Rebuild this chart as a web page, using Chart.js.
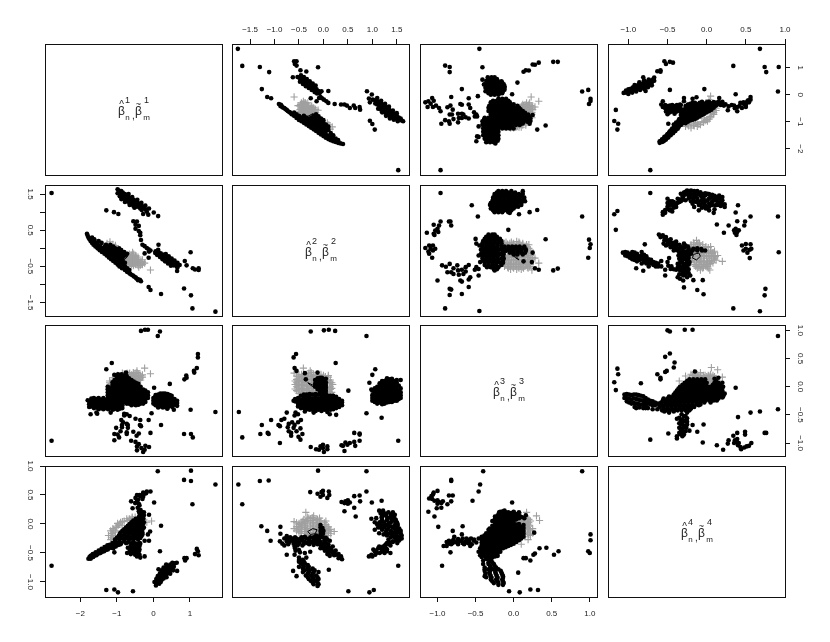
<!DOCTYPE html>
<html>
<head>
<meta charset="utf-8">
<title>pairs</title>
<script src="https://cdn.jsdelivr.net/npm/chart.js@4/dist/chart.umd.min.js"></script>
<style>
  html, body { margin: 0; padding: 0; background: #fff; }
  #wrap { position: relative; width: 830px; height: 642px; overflow: hidden; }
  #wrap canvas { position: absolute; }
</style>
</head>
<body>
<div id="wrap"></div>
<script>
// axis limits and ticks of the four variables
const limits = [[-2.97, 1.88], [-1.87, 1.75], [-1.23, 1.095], [-1.26, 1.0]];
const ticksV1 = [-2, -1, 0, 1];
const ticksV2 = [-1.5, -1, -0.5, 0, 0.5, 1, 1.5];
const ticksV3 = [-1, -0.5, 0, 0.5, 1];
const ticksV4 = [-1, -0.5, 0, 0.5, 1];
const leftLabelsV2 = [-1.5, -0.5, 0.5, 1.5];
const diagLabels = ["1", "2", "3", "4"];

// small polygon drawn over the clouds
const polyV1 = [-0.70, -0.80, -0.97, -0.97, -0.80, -0.70];
const polyV2 = [-0.22, -0.13, -0.17, -0.27, -0.32, -0.22];
const polyV3 = [0.03, -0.02, -0.02, 0.03, 0.07, 0.03];
const polyV4 = [-0.08, -0.10, -0.17, -0.18, -0.13, -0.08];

// [v2, v1]
const black12 = [[-1.75,1.70],[-1.66,1.07],[-1.30,1.03],[-1.11,.84],[-1.26,.21],[-1.15,-.08],[-1.07,-.13],[1.53,-2.79],[-.11,1.02],
[-.6,1.24],[-.55,1.24],[-.585,1.14],[-.55,1.08],[-.47,.91],[-.35,.86],[-.625,.65],[-.53,.66],
[-.50,.64],[-.47,.66],[-.47,.56],[-.44,.62],[-.44,.52],[-.41,.58],[-.41,.47],[-.38,.54],[-.38,.44],[-.35,.50],[-.35,.40],[-.32,.47],[-.32,.37],[-.29,.42],[-.29,.33],[-.26,.38],[-.26,.28],[-.23,.34],[-.23,.25],[-.20,.30],[-.20,.21],[-.17,.26],[-.17,.17],[-.14,.20],[-.14,.12],[-.10,.14],[-.08,.06],[-.13,.05],
[-.04,.13],[.1,.14],[-.06,-.08],[.01,-.18],[-.14,-.24],[-.09,-.12],[-.03,-.13],[.06,-.24],[.1,-.3],[-.26,-.13],[.23,-.34],[.36,-.36],[.43,-.36],[.48,-.4],[.54,-.49],[.62,-.4],[.65,-.49],[.74,-.45],[.75,-.55],
[-.91,-.34],[-.87,-.37],[-.85,-.43],[-.8,-.49],[-.75,-.56],[-.7,-.64],[-.65,-.72],[-.6,-.78],[-.55,-.86],[-.5,-.93],[-.45,-.98],[-.4,-1.04],[-.35,-1.1],[-.3,-1.16],[-.25,-1.22],[-.2,-1.28],[-.15,-1.34],[-.1,-1.41],[-.05,-1.47],[0,-1.53],[.05,-1.59],[.1,-1.64],[.15,-1.68],[.2,-1.72],[.25,-1.75],[.3,-1.78],[.35,-1.8],[.4,-1.82],
[-.6,-.66],[-.55,-.72],[-.5,-.78],[-.45,-.84],[-.4,-.9],[-.35,-.96],[-.3,-1.02],[-.25,-1.08],[-.2,-1.14],[-.15,-1.21],[-.1,-1.28],[-.05,-1.34],[0,-1.4],[.05,-1.46],[.1,-1.52],[.15,-1.57],[.2,-1.62],
[-.4,-.78],[-.35,-.84],[-.3,-.9],[-.25,-.96],[-.2,-1.02],[-.15,-1.09],[-.1,-1.16],[-.05,-1.22],[0,-1.28],[.05,-1.34],
[-.25,-.84],[-.2,-.9],[-.15,-.97],[-.1,-1.04],[-.05,-1.1],[0,-1.16],[.05,-1.22],[-.2,-.78],[-.15,-.85],[-.1,-.92],[-.05,-.98],[0,-1.04],
[.89,.13],[.99,.01],[.93,-.14],[1.01,-.18],[.95,-.28],[1.06,-.2],[1.06,-.32],[1.1,-.24],[1.1,-.36],[1.14,-.28],[1.14,-.4],[1.14,-.5],[1.18,-.32],[1.18,-.44],[1.18,-.55],[1.22,-.38],[1.22,-.5],[1.22,-.62],[1.26,-.43],[1.26,-.55],[1.26,-.66],[1.3,-.48],[1.3,-.6],[1.3,-.72],[1.34,-.54],[1.34,-.66],[1.34,-.77],[1.38,-.6],[1.38,-.72],[1.38,-.82],[1.42,-.68],[1.42,-.8],[1.46,-.72],[1.46,-.84],[1.5,-.78],[1.5,-.88],[1.54,-.84],[1.54,-.92],[1.58,-.88],[1.6,-.95],[1.63,-.98],
[.95,-.96],[1,-1.08],[1.05,-1.29],
[-.88,-.42],[-.83,-.47],[-.78,-.53],[-.73,-.6],[-.68,-.66],[-.63,-.72],[-.57,-.76],[-.15,-.72],[-.1,-.8],[-.05,-.88],[0,-.94],[.05,-1.1],[.1,-1.18],[.1,-1.3],[.15,-1.42],[.2,-1.5],[.25,-1.62],[.3,-1.68],
[-.48,.48],[-.42,.4],[-.36,.32],[-.3,.25],[-.24,.18],[-.18,.1],[-.46,.72],[-.4,.66],[-.34,.58],[-.28,.5],[-.22,.42],[-.16,.34],
[1.1,-.12],[1.18,-.22],[1.26,-.33],[1.34,-.44],[1.42,-.58],[1.5,-.68],[1.12,-.52],[1.2,-.65],[1.28,-.78],[1.36,-.88],[1.44,-.92],[1.52,-.98]];
const gray12 = [[-.6,-.08],[-.41,-.24],[-.52,-.4],[-.47,-.36],[-.37,-.3],[-.3,-.43],[-.23,-.49],[-.11,-.57],[-.48,-.55],[-.43,-.49],[-.37,-.45],[-.33,-.55],[-.4,-.61],[-.33,-.73],[-.43,-.73],[-.26,-.67],[-.18,-.61],[-.5,-.61],[-.39,-.36],[-.3,-.55],[-.43,-.36],[-.44,-.6],[-.36,-.66],[-.28,-.6],[-.4,-.5],[-.35,-.4],[.11,-1.11],[.18,-1.19],[.14,-1.27],[.08,-1.04],
[-.45,-.3],[-.38,-.3],[-.32,-.3],[-.48,-.42],[-.42,-.42],[-.36,-.42],[-.3,-.42],[-.24,-.42],[-.46,-.54],[-.4,-.54],[-.34,-.54],[-.28,-.54],[-.22,-.54],[-.16,-.54],[-.46,-.66],[-.4,-.66],[-.34,-.66],[-.28,-.66],[-.22,-.66],[-.16,-.66],[-.42,-.78],[-.36,-.78],[-.3,-.78],[-.24,-.78],[-.18,-.78],[-.3,-.9],[-.24,-.9],
[-.42,-.34],[-.36,-.34],[-.45,-.48],[-.38,-.48],[-.32,-.48],[-.26,-.48],[-.2,-.48],[-.43,-.6],[-.37,-.6],[-.31,-.6],[-.25,-.6],[-.2,-.6],[-.43,-.72],[-.37,-.72],[-.31,-.72],[-.25,-.72],[-.19,-.72],[-.35,-.84],[-.28,-.84],[-.22,-.84]];

// [v3, v1]
const black13 = [[-.45,1.70],[-.90,1.08],[-.84,1.03],[-.84,.84],[-.41,1.02],[-.68,.21],[-.82,-.08],[-.59,-.13],[-.47,-.05],[-.96,-2.79],[.05,.45],[-.02,.02],[.90,.12],[.98,.18],[1.01,-.15],[1.01,-.23],[.99,-.34],[.52,1.22],[.58,1.22],[.33,1.19],[.25,1.12],[.28,1.11],[.16,.91],[.20,.90],[.13,.85],[.31,-1.29],[.42,-1.14],[.25,-.75],[.21,-1.07],
[-.34,.65],[-.29,.65],[-.25,.65],[-.36,.52],[-.31,.52],[-.26,.52],[-.21,.52],[-.16,.5],[-.38,.39],[-.33,.39],[-.28,.39],[-.23,.39],[-.18,.39],[-.13,.39],[-.37,.26],[-.32,.26],[-.27,.26],[-.22,.26],[-.17,.26],[-.12,.26],[-.34,.13],[-.29,.13],[-.24,.13],[-.19,.13],[-.14,.13],[-.3,0],[-.25,0],[-.2,0],[-.41,.56],[-.39,.38],[-.37,.13],
[-1.16,-.28],[-1.12,-.24],[-1.07,-.12],[-1.05,-.22],[-1.09,-.33],[-1.13,-.45],[-1.06,-.45],[-1.02,-.40],[-.98,-.49],[-.96,-.61],
[-.95,-1.07],[-.90,-.94],[-.85,-.98],[-.84,-1.07],[-.87,-.46],[-.83,-.40],[-.80,-.55],[-.84,-.73],[-.81,-.73],[-.79,-.90],[-.73,-1.02],[-.72,-.86],[-.73,-.70],[-.68,-.70],[-.70,-.34],[-.68,-.37],[-.66,-.73],[-.63,-.83],[-.59,-.88],[-.68,-.86],[-.59,-.36],[-.57,-.49],[-.52,-.65],[-.49,-.73],[-.48,-.80],[-.51,-.80],[-.46,-1.17],[-.49,-1.72],[-.48,-1.54],[-.46,-1.56],
[-.2,-.15],[-.15,-.15],[-.1,-.15],[-.3,-.28],[-.25,-.28],[-.2,-.28],[-.15,-.28],[-.1,-.28],[-.05,-.28],[-.32,-.41],[-.27,-.41],[-.22,-.41],[-.17,-.41],[-.12,-.41],[-.07,-.41],[-.02,-.41],[.05,-.41],[-.31,-.54],[-.26,-.54],[-.21,-.54],[-.16,-.54],[-.11,-.54],[-.06,-.54],[-.01,-.54],[.04,-.54],[.09,-.54],[-.3,-.67],[-.25,-.67],[-.2,-.67],[-.15,-.67],[-.1,-.67],[-.05,-.67],[0,-.67],[.05,-.67],[.1,-.67],[.15,-.67],
[-.28,-.8],[-.23,-.8],[-.18,-.8],[-.13,-.8],[-.08,-.8],[-.03,-.8],[.02,-.8],[.07,-.8],[.12,-.8],[.17,-.8],[.2,-.8],[-.25,-.93],[-.2,-.93],[-.15,-.93],[-.1,-.93],[-.05,-.93],[0,-.93],[.05,-.93],[.1,-.93],[.15,-.93],[.2,-.93],[.22,-.97],[-.2,-1.06],[-.15,-1.06],[-.1,-1.06],[-.05,-1.06],[0,-1.06],[.05,-1.06],[.1,-1.06],[.12,-1.06],[-.2,-1.19],[-.15,-1.19],[-.1,-1.19],[-.05,-1.19],[-.02,-1.19],
[-.38,-.85],[-.33,-.85],[-.28,-.85],[-.23,-.85],[-.41,-.98],[-.36,-.98],[-.31,-.98],[-.26,-.98],[-.2,-.98],[-.41,-1.11],[-.36,-1.11],[-.31,-1.11],[-.26,-1.11],[-.2,-1.11],[-.4,-1.24],[-.35,-1.24],[-.3,-1.24],[-.25,-1.24],[-.2,-1.24],[-.4,-1.37],[-.35,-1.37],[-.3,-1.37],[-.25,-1.37],[-.2,-1.37],[-.4,-1.5],[-.35,-1.5],[-.3,-1.5],[-.25,-1.5],[-.2,-1.5],[-.38,-1.63],[-.33,-1.63],[-.28,-1.63],[-.23,-1.63],[-.2,-1.63],[-.36,-1.76],[-.31,-1.76],[-.26,-1.76],[-.24,-1.8],
[-.32,.58],[-.27,.58],[-.22,.58],[-.34,.45],[-.29,.45],[-.24,.45],[-.19,.45],[-.15,.45],[-.36,.32],[-.31,.32],[-.26,.32],[-.21,.32],[-.16,.32],[-.12,.32],[-.35,.19],[-.3,.19],[-.25,.19],[-.2,.19],[-.15,.19],[-.12,.19],[-.33,.06],[-.28,.06],[-.23,.06],[-.18,.06],[-.15,.06],
[-.27,-.22],[-.22,-.22],[-.17,-.22],[-.12,-.22],[-.07,-.22],[-.3,-.35],[-.25,-.35],[-.2,-.35],[-.15,-.35],[-.1,-.35],[-.05,-.35],[0,-.35],[-.33,-.48],[-.28,-.48],[-.23,-.48],[-.18,-.48],[-.13,-.48],[-.08,-.48],[-.03,-.48],[.02,-.48],[.07,-.48],[-.33,-.6],[-.28,-.6],[-.23,-.6],[-.18,-.6],[-.13,-.6],[-.08,-.6],[-.03,-.6],[.02,-.6],[.07,-.6],[.12,-.6],
[-.3,-.73],[-.25,-.73],[-.2,-.73],[-.15,-.73],[-.1,-.73],[-.05,-.73],[0,-.73],[.05,-.73],[.1,-.73],[.15,-.73],[.19,-.73],[-.27,-.87],[-.22,-.87],[-.17,-.87],[-.12,-.87],[-.07,-.87],[-.02,-.87],[.03,-.87],[.08,-.87],[.13,-.87],[.18,-.87],[.22,-.87],[-.22,-1],[-.17,-1],[-.12,-1],[-.07,-1],[-.02,-1],[.03,-1],[.08,-1],[.13,-1],[.18,-1],[-.17,-1.12],[-.12,-1.12],[-.07,-1.12],[-.02,-1.12],[.03,-1.12],[.08,-1.12],[-.15,-1.25],[-.1,-1.25],[-.05,-1.25],[0,-1.25],
[-.39,-.92],[-.34,-.92],[-.29,-.92],[-.24,-.92],[-.39,-1.05],[-.34,-1.05],[-.29,-1.05],[-.23,-1.05],[-.38,-1.18],[-.33,-1.18],[-.28,-1.18],[-.23,-1.18],[-.38,-1.3],[-.33,-1.3],[-.28,-1.3],[-.23,-1.3],[-.38,-1.43],[-.33,-1.43],[-.28,-1.43],[-.23,-1.43],[-.37,-1.56],[-.32,-1.56],[-.27,-1.56],[-.22,-1.56],[-.35,-1.7],[-.3,-1.7],[-.25,-1.7],[-.21,-1.7]];
const gray13 = [[.23,-.08],[.33,-.24],[.21,-.3],[.28,-.45],[.25,-.55],[.15,-.36],[.11,-.4],[.18,-.49],[.22,-.67],[.15,-.61],[.09,-.55],[.13,-.73],[.11,-.86],[.07,-1.04],[0,-1.23],[-.04,-1.23],[-.09,-1.19],[.04,-1.19],[.2,-.42],[.12,-.48],[.17,-.3],[.05,-1.16],
[.12,-.35],[.17,-.35],[.2,-.35],[.1,-.45],[.15,-.45],[.2,-.45],[.25,-.45],[.12,-.55],[.17,-.55],[.22,-.55],[.18,-.65],[.2,-.65],[.24,-.65],[.2,-.8],[.23,-.8],[.08,-1.12],[.12,-1.12],[.16,-1.12],[-.02,-1.2],[.02,-1.2],[.07,-1.2],[.1,-1.2],
[.13,-.4],[.18,-.4],[.23,-.4],[.14,-.5],[.19,-.5],[.24,-.5],[.16,-.6],[.21,-.6],[.2,-.72],[.24,-.72],[.24,-.85],[.2,-.98],[.16,-1.05]];

// [v4, v1]
const black14 = [[.68,1.70],[.74,1.03],[.92,1.03],[.76,.84],[.34,1.07],[.91,.12],[.37,.02],[-.03,.21],[-.47,.18],[-.72,-2.79],[-1.16,-.56],[-1.18,-.97],[-1.13,-1.07],[-1.14,-1.29],[-.49,-1.07],[-.54,1.24],[-.52,1.14],[-.47,1.22],[-.43,1.19],[-.63,.87],[-.59,.91],[-.59,.85],
[-1.06,.07],[-1.03,.08],[-1.03,.16],[-1,.1],[-1,.2],[-.97,.12],[-.97,.22],[-.94,.18],[-.94,.28],[-.91,.2],[-.91,.3],[-.88,.24],[-.88,.35],[-.85,.28],[-.85,.38],[-.82,.32],[-.82,.42],[-.79,.3],[-.79,.4],[-.79,.5],[-.76,.36],[-.76,.46],[-.73,.38],[-.73,.48],[-.7,.46],[-.7,.54],[-.67,.52],[-.67,.64],[-.81,.65],[-.78,.14],
[-.6,-1.78],[-.57,-1.75],[-.57,-1.65],[-.54,-1.68],[-.54,-1.56],[-.51,-1.6],[-.51,-1.5],[-.48,-1.5],[-.48,-1.4],[-.45,-1.42],[-.45,-1.3],[-.42,-1.33],[-.42,-1.22],[-.42,-1.1],[-.39,-1.28],[-.39,-1.15],[-.39,-1.03],[-.36,-1.2],[-.36,-1.08],[-.36,-.95],[-.33,-1.12],[-.33,-1],[-.33,-.88],[-.33,-.75],[-.3,-1.05],[-.3,-.93],[-.3,-.8],[-.3,-.68],[-.3,-.55],[-.27,-1.05],[-.27,-.93],[-.27,-.8],[-.27,-.67],[-.27,-.55],[-.27,-.42],[-.24,-1],[-.24,-.88],[-.24,-.75],[-.24,-.62],[-.24,-.5],[-.24,-.38],[-.21,-.95],[-.21,-.83],[-.21,-.7],[-.21,-.57],[-.21,-.45],[-.21,-.33],[-.18,-.92],[-.18,-.8],[-.18,-.67],[-.18,-.54],[-.18,-.42],[-.18,-.3],[-.15,-.9],[-.15,-.77],[-.15,-.64],[-.15,-.51],[-.15,-.38],[-.15,-.3],[-.12,-.85],[-.12,-.72],[-.12,-.6],[-.12,-.47],[-.12,-.35],[-.09,-.8],[-.09,-.68],[-.09,-.55],[-.09,-.43],[-.09,-.3],[-.06,-.75],[-.06,-.63],[-.06,-.5],[-.06,-.38],[-.06,-.26],[-.03,-.7],[-.03,-.58],[-.03,-.45],[-.03,-.33],[0,-.65],[0,-.52],[0,-.4],[0,-.28],[.03,-.6],[.03,-.48],[.03,-.36],[.03,-.26],[.06,-.55],[.06,-.43],[.06,-.32],[.09,-.48],[.09,-.36],[.09,-.27],[.12,-.4],[.12,-.3],[.15,-.35],[.15,-.26],[.18,-.3],[.18,-.38],[.2,-.26],
[-.56,-.24],[-.56,-.45],[-.53,-.5],[-.5,-.42],[-.5,-.55],[-.5,-.72],[-.47,-.4],[-.47,-.52],[-.47,-.65],[-.44,-.38],[-.44,-.5],[-.44,-.62],[-.41,-.42],[-.41,-.55],[-.41,-.7],[-.38,-.38],[-.38,-.5],[-.38,-.62],[-.35,-.42],[-.35,-.55],[-.33,-.38],
[-.29,-.12],[-.29,-.24],[-.18,-.15],[-.13,-.09],[-.34,-.36],[-.24,-.36],
[.16,-.12],[.28,-.43],[.27,-.57],[.35,-.4],[.39,-.45],[.39,-.61],[.43,-.3],[.48,-.36],[.45,-.49],[.5,-.3],[.5,-.45],[.52,-.24],[.56,-.08],[.56,-.18],[.53,-.2],[.2,-.3],[.24,-.35],
[-.58,-.36],[-.53,-.38],[-.52,-.62],[-.46,-.46],[-.43,-.44],[-.43,-.56],[-.4,-.48],[-.4,-.62],[-.37,-.44],[-.37,-.56],[-.34,-.48],[-.34,-.6],[-.32,-.7],[-.6,-1.72],[-.55,-1.62],[.22,-.4],[.32,-.38],[.36,-.5],[.42,-.42],[.47,-.28],[.54,-.28],[.5,-.38],[-1,.15],[-.95,.22],[-.9,.25],[-.86,.33],[-.8,.36],[-.75,.42],[-.71,.5],
[-.58,-1.7],[-.52,-1.55],[-.5,-1.45],[-.47,-1.35],[-.44,-1.25],[-.41,-1.15],[-.38,-1.05],[-.35,-.9],[-.32,-.95],[-.55,-1.72],[-.52,-1.66],[-.49,-1.58],[-.46,-1.5],[-.43,-1.42],[-.4,-1.34],[-.37,-1.26],
[-1,.03],[-.95,.08],[-.9,.12],[-.85,.18],[-.8,.22],[-.75,.28],[-.7,.35],[-.92,.36],[-.86,.46],[-.8,.54],[-.74,.56],[-.68,.58]];
const gray14 = [[.05,-.05],[.03,-.18],[-.03,-.86],[.05,-.8],[-.12,-1.17],[-.2,-1.23],[-.27,-1.17],[-.08,-1.11],[.01,-.98],[.07,-.55],[.09,-.73],[-.14,-1.04],[-.04,-1.02],[.03,-.9],[-.16,-1.15],[.08,-.64],[-.25,-1.1],[-.2,-1.08],[-.12,-1.05],[-.06,-1],[0,-.92],[.06,-.7],[.1,-.58],[.12,-.5],
[-.23,-1.15],[-.17,-1.12],[-.1,-1.1],[-.02,-.96],[.04,-.85],[.09,-.66],[.12,-.58]];

// [v3, v2]
const black23 = [[-.96,1.53],[-.55,1.19],[-.47,.88],[.9,.88],[-.07,.51],[.42,.25],[.99,.24],[1.01,.11],[1,.01],[.98,-.26],[.52,-.61],[.58,-.56],[.33,-.59],[.21,1],[.31,1.06],[.07,.94],[-.9,-1.66],[-.45,-1.73],[-.68,-1.26],[-.84,-1.29],[-.82,-1.14],[-.84,-1.12],[-.59,-1.07],[-1,-.89],
[-.2,1.58],[-.15,1.58],[-.1,1.58],[-.03,1.58],[.12,1.58],[-.25,1.5],[-.2,1.5],[-.15,1.5],[-.1,1.5],[-.05,1.5],[0,1.5],[.07,1.5],[.12,1.5],[-.27,1.4],[-.22,1.4],[-.17,1.4],[-.12,1.4],[-.07,1.4],[-.02,1.4],[.03,1.4],[.08,1.4],[.14,1.4],[-.28,1.3],[-.23,1.3],[-.18,1.3],[-.13,1.3],[-.08,1.3],[-.03,1.3],[.02,1.3],[.07,1.3],[.12,1.3],[.15,1.3],[-.31,1.2],[-.26,1.2],[-.21,1.2],[-.16,1.2],[-.11,1.2],[-.06,1.2],[-.01,1.2],[.04,1.2],[.1,1.2],[-.3,1.1],[-.25,1.1],[-.2,1.1],[-.15,1.1],[-.1,1.1],[-.05,1.1],[0,1.1],[-.25,1],[-.2,1],[-.15,1],[-.07,1],[-.05,.98],
[-1.14,.43],[-1.05,.65],[-.98,.63],[-.96,.74],[-.85,.74],[-.83,.74],[-.82,.63],[-1.03,.49],[-1.05,.4],[-1,.54],[-.99,.45],[-1.04,.37],
[-1.16,.01],[-1.11,.08],[-1.06,.08],[-1.09,-.01],[-1.12,-.09],[-1.11,-.15],[-1.06,-.06],[-1.03,-.01],[-1.07,-.26],
[-.94,-.47],[-.89,-.51],[-.84,-.43],[-.87,-.66],[-.82,-.66],[-.79,-.55],[-.79,-.71],[-.74,-.47],[-.73,-.61],[-.72,-.73],[-.68,-.59],[-.63,-.52],[-.59,-.46],[-.63,-.64],[-.66,-.71],[-.7,-.89],[-.68,-.92],[-.57,-.8],[-.59,-.86],[-.49,-.52],[-.46,-.57],[-.51,-.59],[-.46,-.75],
[-.5,.26],[-.49,.13],[-.45,.08],[-.46,-.2],[-.44,-.38],
[-.33,.38],[-.28,.38],[-.25,.38],[-.38,.26],[-.33,.26],[-.28,.26],[-.23,.26],[-.18,.26],[-.41,.14],[-.36,.14],[-.31,.14],[-.26,.14],[-.21,.14],[-.16,.14],[-.41,.02],[-.36,.02],[-.31,.02],[-.26,.02],[-.21,.02],[-.15,.02],[-.41,-.1],[-.36,-.1],[-.31,-.1],[-.26,-.1],[-.21,-.1],[-.14,-.1],[-.41,-.22],[-.36,-.22],[-.31,-.22],[-.26,-.22],[-.21,-.22],[-.14,-.22],[-.4,-.34],[-.35,-.34],[-.3,-.34],[-.25,-.34],[-.2,-.34],[-.14,-.34],[-.38,-.46],[-.33,-.46],[-.28,-.46],[-.23,-.46],[-.16,-.46],[-.26,-.58],[-.22,-.58],[-.25,-.61],
[-.12,.05],[-.07,.05],[-.02,.05],[.03,.05],[.08,.05],[.14,.05],[-.1,-.07],[-.05,-.07],[0,-.07],[.05,-.07],[.1,-.07],[.16,-.07],[0,-.17],[.05,-.17],[.12,-.17],[.25,-.12],[.13,-.36],[.24,-.38],[.28,-.55],
[-.22,1.54],[-.17,1.54],[-.12,1.54],[-.07,1.54],[.02,1.54],[-.25,1.45],[-.2,1.45],[-.15,1.45],[-.1,1.45],[-.05,1.45],[0,1.45],[.05,1.45],[.1,1.45],[-.27,1.35],[-.22,1.35],[-.17,1.35],[-.12,1.35],[-.07,1.35],[-.02,1.35],[.03,1.35],[.08,1.35],[.13,1.35],[-.3,1.25],[-.25,1.25],[-.2,1.25],[-.15,1.25],[-.1,1.25],[-.05,1.25],[0,1.25],[.05,1.25],[.1,1.25],[-.28,1.15],[-.23,1.15],[-.18,1.15],[-.13,1.15],[-.08,1.15],[-.03,1.15],[.02,1.15],[.06,1.15],[-.27,1.05],[-.22,1.05],[-.17,1.05],[-.12,1.05],[-.08,1.05],[-.03,1.05],
[-.36,.32],[-.31,.32],[-.26,.32],[-.22,.32],[-.4,.2],[-.35,.2],[-.3,.2],[-.25,.2],[-.2,.2],[-.16,.2],[-.41,.08],[-.36,.08],[-.31,.08],[-.26,.08],[-.21,.08],[-.16,.08],[-.43,-.04],[-.38,-.04],[-.33,-.04],[-.28,-.04],[-.23,-.04],[-.18,-.04],[-.13,-.04],[-.43,-.16],[-.38,-.16],[-.33,-.16],[-.28,-.16],[-.23,-.16],[-.18,-.16],[-.13,-.16],[-.41,-.28],[-.36,-.28],[-.31,-.28],[-.26,-.28],[-.21,-.28],[-.16,-.28],[-.13,-.28],[-.38,-.4],[-.33,-.4],[-.28,-.4],[-.23,-.4],[-.18,-.4],[-.14,-.4],[-.35,-.52],[-.3,-.52],[-.25,-.52],[-.2,-.52],
[-.12,0],[-.07,0],[-.02,0],[.03,0],[.08,0],[.13,0],[-.05,-.12],[0,-.12],[.05,-.12],[.1,-.12],[.15,-.12],[.16,-.03]];
const gray23 = [[.04,.19],[-.12,.14],[-.05,.14],[0,.14],[.08,.14],[.12,.14],[-.1,-.25],[-.03,-.25],[.05,-.25],[.12,-.25],[.18,-.25],[.25,-.25],[-.12,-.35],[-.05,-.35],[.02,-.35],[.08,-.35],[.15,-.35],[.21,-.35],[-.1,-.45],[-.03,-.45],[.04,-.45],[.1,-.45],[.17,-.45],[.22,-.45],[-.07,-.55],[0,-.55],[.07,-.55],[.13,-.55],[.19,-.55],[.33,-.41],[.28,-.27],[.24,-.6],[.18,.04],[.2,-.15],[.22,-.05],
[-.1,.17],[-.03,.17],[.07,.17],[-.14,.1],[.17,.1],[.2,.1],[-.12,-.2],[-.06,-.2],[0,-.2],[.06,-.2],[.14,-.2],[.2,-.2],[-.1,-.3],[-.03,-.3],[.04,-.3],[.1,-.3],[.18,-.3],[.24,-.3],[-.14,-.4],[-.07,-.4],[0,-.4],[.07,-.4],[.13,-.4],[.2,-.4],[-.12,-.5],[-.05,-.5],[.02,-.5],[.09,-.5],[.15,-.5],[.21,-.5],[-.04,-.58],[.04,-.58],[.1,-.58],
[-.08,.12],[-.01,.12],[.06,.12],[.12,.1],[-.08,-.22],[-.01,-.22],[.08,-.22],[.16,-.22],[-.07,-.33],[0,-.33],[.06,-.33],[.13,-.33],[.19,-.33],[-.11,-.43],[-.04,-.43],[.03,-.43],[.11,-.43],[.16,-.43],[-.08,-.52],[-.01,-.52],[.06,-.52],[.12,-.52],[.18,-.52],[.19,-.1],[.2,0],[.22,-.2]];

// [v4, v2]
const black24 = [[-.72,1.53],[-1.18,.94],[-1.14,1.03],[-1.16,.51],[.91,.88],[.92,-.11],[.4,1.19],[.37,.99],[.56,.88],[.49,.74],[.39,.75],[.48,.63],[.28,.63],[.13,.66],[.22,.43],[.35,.5],[.37,.54],[.39,.45],[.38,.37],[.41,.5],[.36,.43],
[.45,.08],[.5,.12],[.56,.11],[.57,-.01],[.47,-.06],[.52,-.12],[.55,-.04],[.5,-.01],[.55,-.27],
[.75,-1.12],[.74,-1.3],[.34,-1.66],[.68,-1.74],[-.04,-1.27],[-.12,-1.15],[-.05,-.88],[-.17,-.88],[-.29,-1.08],[-.79,.11],
[-.56,.93],[-.56,1],[-.5,1.08],[-.5,1.37],[-.48,1.19],[-.44,1.02],[-.46,1.23],[-.42,1.28],[-.39,1.14],[-.37,1.26],[-.31,1.42],[-.33,1.51],[-.29,1.54],[-.25,1.6],[-.2,1.6],[-.16,1.58],[-.12,1.58],[-.08,1.46],[.01,1.51],[.05,1.46],[.09,1.42],[.16,1.46],[.2,1.33],[.23,1.14],[.09,.98],[.18,1.17],[.11,1.19],[.05,1.19],[-.01,1.1],[-.08,1.19],[-.13,1.28],[-.17,1.37],[-.23,1.46],[-.27,1.33],[-.3,1.42],[-.2,1.42],[-.14,1.46],[-.06,1.33],[.01,1.33],[.07,1.3],[.14,1.28],[.18,1.28],[-.03,1.23],[-.1,1.05],[.01,1.14],[-.18,1.23],[-.16,1.14],[.03,1.05],[-.33,1.3],[-.37,1.37],[-.42,1.12],[-.46,1.08],[-.25,1.5],[-.16,1.5],[-.08,1.55],[-.02,1.46],[.07,1.4],[.12,1.37],[-.04,1.38],[.03,1.24],[-.12,1.38],
[-.53,.98],[-.53,1.06],[-.5,1.15],[-.5,1.25],[-.47,1.05],[-.47,1.3],[-.44,1.2],[-.44,1.3],[-.41,1.2],[-.39,1.22],[-.35,1.35],[-.35,1.28],[-.31,1.34],[-.28,1.48],[-.27,1.56],[-.23,1.56],[-.23,1.38],[-.2,1.5],[-.2,1.3],[-.16,1.42],[-.16,1.3],[-.13,1.52],[-.1,1.5],[-.1,1.3],[-.1,1.2],[-.06,1.5],[-.06,1.42],[-.06,1.24],[-.06,1.12],[-.02,1.52],[-.02,1.3],[-.02,1.18],[.03,1.5],[.03,1.38],[.03,1.15],[.07,1.48],[.07,1.2],[.1,1.45],[.1,1.32],[.1,1.08],[.13,1.42],[.13,1.2],[.16,1.38],[.16,1.2],[.2,1.42],[.2,1.22],[.23,1.22],
[-1.07,-.12],[-1.04,-.1],[-1.04,-.2],[-1.01,-.12],[-1.01,-.22],[-.98,-.16],[-.98,-.26],[-.95,-.1],[-.95,-.2],[-.95,-.3],[-.92,-.12],[-.92,-.22],[-.92,-.32],[-.89,-.15],[-.89,-.25],[-.89,-.36],[-.86,-.22],[-.86,-.32],[-.83,-.1],[-.83,-.2],[-.83,-.3],[-.83,-.42],[-.8,-.18],[-.8,-.28],[-.8,-.38],[-.77,-.22],[-.77,-.32],[-.77,-.42],[-.74,-.3],[-.74,-.4],[-.74,-.5],[-.71,-.32],[-.71,-.42],[-.68,-.38],[-.68,-.46],[-.65,-.4],[-.65,-.5],[-.62,-.42],[-.62,-.5],[-.58,-.35],[-.58,-.5],[-.81,-.62],[-.9,-.55],
[-.61,.38],[-.56,.36],[-.59,.31],[-.54,.22],[-.52,.31],[-.55,.13],[-.5,.19],[-.46,.25],[-.48,.13],[-.44,.13],[-.39,.19],[-.52,.08],[-.46,.03],[-.39,.03],[-.35,-.01],[-.42,-.06],[-.35,-.12],[-.31,-.06],[-.27,.08],[-.29,.13],[-.23,-.01],[-.18,-.06],[-.12,-.06],[-.06,-.06],[-.25,-.15],[-.31,-.24],[-.35,-.29],[-.27,-.29],[-.37,-.43],[-.31,-.38],[-.27,-.43],[-.35,-.52],[-.3,-.52],[-.25,-.55],[-.34,-.61],[-.29,-.64],[-.23,-.68],[-.27,-.73],[-.21,-.75],[-.23,-.27],[-.2,-.15],[-.46,-.57],[-.39,-.59],[-.53,-.59],[-.53,-.75],[-.5,-.38],[-.48,-.27],[-.37,-.8],[-.34,-.84],[-.3,-.89],
[-.42,.08],[-.35,.1],[-.31,.02],[-.36,-.2],[-.3,-.15],[-.25,-.08],[-.33,-.33],[-.29,-.2],[-.25,-.35],[-.29,-.46],[-.23,-.45],[-.31,-.7],[-.25,-.64],
[-.57,.33],[-.53,.26],[-.49,.22],[-.5,.1],[-.47,.19],[-.45,.07],[-.42,.15],[-.42,0],[-.38,.1],[-.38,-.05],[-.33,.05],[-.33,-.12],[-.28,.02],[-.28,-.1],[-.24,.05],[-.22,-.08],[-.17,-.01],[-.12,0],[-.07,-.02],[-.02,-.06],[-.33,-.2],[-.3,-.3],[-.26,-.2],[-.23,-.2],[-.34,-.4],[-.33,-.5],[-.28,-.58],[-.23,-.58],[-.32,-.56],[-.26,-.48],[-.22,-.38],[-.37,-.53],[-.42,-.58],[-.45,-.5],[-.49,-.48],[-.3,-.75],[-.35,-.72],[-.25,-.8]];
const gray24 = [[-.13,.22],[.14,-.2],[.2,-.36],[.08,-.4],[.04,-.6],[-.2,.1],[-.12,.1],[-.05,.1],[-.22,-.15],[-.15,-.15],[-.08,-.15],[0,-.15],[.07,-.15],[-.18,-.27],[-.11,-.27],[-.04,-.27],[.03,-.27],[.09,-.27],[-.2,-.38],[-.13,-.38],[-.06,-.38],[.01,-.38],[.05,-.42],[-.14,-.5],[-.07,-.5],[-.01,-.5],[-.08,-.6],[-.16,-.45],[.05,-.05],[-.02,.02],[-.17,-.05],[-.1,-.2],[-.03,-.2],[-.12,-.33],[-.04,-.44],
[-.17,.15],[-.1,.15],[-.2,.05],[-.14,.05],[-.08,.05],[-.01,.05],[.05,.05],[-.2,-.08],[-.14,-.08],[-.07,-.08],[-.01,-.08],[.05,-.08],[.1,-.08],[-.18,-.2],[-.04,-.1],[.03,-.2],[.09,-.2],[-.19,-.33],[-.08,-.33],[0,-.33],[.06,-.33],[.12,-.33],[-.1,-.44],[-.02,-.44],[.03,-.44],[-.12,-.55],[-.05,-.55],[.02,-.55],
[-.16,.1],[-.09,.12],[-.17,.02],[-.11,.02],[-.05,.02],[.02,.02],[-.19,-.12],[-.12,-.12],[-.05,-.12],[.02,-.12],[.08,-.12],[-.15,-.23],[-.07,-.23],[0,-.23],[.06,-.23],[.11,-.23],[-.16,-.35],[-.09,-.36],[-.03,-.36],[.04,-.36],[.1,-.3],[-.13,-.46],[-.07,-.46],[0,-.46],[-.1,-.52],[-.04,-.52],[.01,-.5]];

// [v4, v3]
const black34 = [[-.5,1],[-.47,.98],[-.28,1.01],[-.18,1.01],[.91,.9],[-.53,.53],[-.47,.59],[-.41,.43],[-.42,.34],[-.51,.28],[-.53,.26],[-.63,.22],[-.59,.16],[-.59,.13],[-.84,.06],[-1.14,.32],[-1.13,.22],[-1.18,.08],[-1.16,-.06],[.37,-.02],[.91,-.4],[.68,-.44],[.56,-.46],[.4,-.54],[-.04,-.67],[-.72,-.94],[-.49,-.83],[-.12,-.8],[-.05,-.99],[.13,-1.04],[.21,-1.12],
[.27,-1.01],[.28,-.95],[.34,-.87],[.39,-.82],[.49,-.8],[.49,-.85],[.74,-.82],[.76,-.82],[.39,-.93],[.36,-.95],[.41,-1],[.35,-1],[.4,-1.04],[.44,-1.11],[.48,-1.08],[.51,-1.06],[.54,-1.05],[.57,-1],[.43,-1.07],[.38,-.98],
[-1.05,-.14],[-1.05,-.2],[-1.02,-.13],[-1.02,-.2],[-1.02,-.26],[-.99,-.14],[-.99,-.21],[-.99,-.28],[-.96,-.15],[-.96,-.23],[-.96,-.3],[-.93,-.14],[-.93,-.21],[-.93,-.29],[-.9,-.14],[-.9,-.22],[-.9,-.3],[-.9,-.38],[-.87,-.15],[-.87,-.23],[-.87,-.31],[-.84,-.16],[-.84,-.24],[-.84,-.32],[-.81,-.17],[-.81,-.24],[-.81,-.31],[-.81,-.38],[-.78,-.2],[-.78,-.27],[-.78,-.33],[-.75,-.23],[-.75,-.3],[-.75,-.38],[-.72,-.25],[-.72,-.31],[-.69,-.26],[-.69,-.33],[-.66,-.28],[-.66,-.33],[-.63,-.3],[-.63,-.4],[-.6,-.3],[-.6,-.36],
[-.22,.13],[-.17,.13],[-.12,.13],[-.07,.13],[-.02,.13],[.1,.14],[.15,.16],[-.15,.27],
[-.28,.07],[-.23,.07],[-.18,.07],[-.13,.07],[-.08,.07],[-.03,.07],[0,.07],[.1,.07],[.15,.07],[-.34,0],[-.29,0],[-.24,0],[-.19,0],[-.14,0],[-.09,0],[-.04,0],[.01,0],[.05,0],[.1,0],[.15,0],[.2,0],
[-.38,-.07],[-.33,-.07],[-.28,-.07],[-.23,-.07],[-.18,-.07],[-.13,-.07],[-.08,-.07],[-.03,-.07],[.02,-.07],[.07,-.07],[.12,-.07],[.17,-.07],[.2,-.07],[-.42,-.14],[-.37,-.14],[-.32,-.14],[-.27,-.14],[-.22,-.14],[-.17,-.14],[-.12,-.14],[-.07,-.14],[-.02,-.14],[.03,-.14],[.08,-.14],[.13,-.14],[.18,-.14],[.22,-.14],
[-.55,-.21],[-.5,-.21],[-.45,-.21],[-.4,-.21],[-.35,-.21],[-.3,-.21],[-.25,-.21],[-.2,-.21],[-.15,-.21],[-.1,-.21],[-.05,-.21],[0,-.21],[.05,-.21],[.1,-.21],[.15,-.21],[.2,-.19],
[-.58,-.28],[-.53,-.28],[-.48,-.28],[-.43,-.28],[-.38,-.28],[-.33,-.28],[-.28,-.28],[-.23,-.28],[-.18,-.28],[-.13,-.28],[-.08,-.28],[-.03,-.28],[.05,-.28],[-.6,-.35],[-.55,-.35],[-.5,-.35],[-.45,-.35],[-.4,-.35],[-.35,-.35],[-.3,-.35],[-.25,-.35],[-.2,-.35],[-.16,-.36],[-.1,-.33],[-.57,-.42],[-.52,-.42],[-.47,-.42],[-.42,-.42],[-.37,-.42],[-.32,-.42],[-.27,-.42],[-.22,-.42],
[.2,.07],[.21,0],[.23,-.12],
[-.35,-.55],[-.31,-.58],[-.27,-.52],[-.25,-.46],[-.38,-.57],[-.33,-.67],[-.29,-.69],[-.25,-.67],[-.35,-.73],[-.31,-.76],[-.27,-.79],[-.22,-.78],[-.29,-.85],[-.31,-.88],[-.35,-.82],[-.18,-.68],[-.38,-.88],[-.38,-.92],[-.34,-.84],[-.31,-.64],[-.27,-.61],[-.29,-.52],[-.25,-.56],[-.32,-.49],
[-.54,-.44],[-.48,-.46],[-.42,-.44],[-.78,-.38],[-.69,-.4],[-.92,-.36],[-.86,-.37],
[-.25,.1],[-.2,.1],[-.15,.1],[-.1,.1],[-.05,.1],[.12,.1],[-.31,.035],[-.26,.035],[-.21,.035],[-.16,.035],[-.11,.035],[-.06,.035],[-.01,.035],[.08,.035],[.12,.035],[.17,.035],
[-.36,-.035],[-.31,-.035],[-.26,-.035],[-.21,-.035],[-.16,-.035],[-.11,-.035],[-.06,-.035],[-.01,-.035],[.04,-.035],[.09,-.035],[.14,-.035],[.19,-.035],[-.4,-.105],[-.35,-.105],[-.3,-.105],[-.25,-.105],[-.2,-.105],[-.15,-.105],[-.1,-.105],[-.05,-.105],[0,-.105],[.05,-.105],[.1,-.105],[.15,-.105],[.2,-.105],
[-.48,-.175],[-.43,-.175],[-.38,-.175],[-.33,-.175],[-.28,-.175],[-.23,-.175],[-.18,-.175],[-.13,-.175],[-.08,-.175],[-.03,-.175],[.02,-.175],[.07,-.175],[.12,-.175],[.17,-.175],[.21,-.175],
[-.56,-.245],[-.51,-.245],[-.46,-.245],[-.41,-.245],[-.36,-.245],[-.31,-.245],[-.26,-.245],[-.21,-.245],[-.16,-.245],[-.11,-.245],[-.06,-.245],[-.01,-.245],[.04,-.245],[.09,-.245],[.13,-.245],
[-.58,-.315],[-.53,-.315],[-.48,-.315],[-.43,-.315],[-.38,-.315],[-.33,-.315],[-.28,-.315],[-.23,-.315],[-.18,-.315],[-.13,-.315],[-.08,-.315],[-.55,-.385],[-.5,-.385],[-.45,-.385],[-.4,-.385],[-.35,-.385],[-.3,-.385],[-.25,-.385],[-.2,-.385],
[-.33,-.6],[-.29,-.6],[-.35,-.65],[-.3,-.72],[-.26,-.73],[-.33,-.8],[-.3,-.8],[-.25,-.62]];
const gray34 = [[.06,.34],[.14,.3],[.05,.22],[.2,.17],[-.08,.25],[-.16,.25],[-.27,.19],[-.35,.1],[-.03,.16],[.01,.13],[.05,.1],[-.01,.07],[-.08,.19],[-.12,.22],[-.2,.22],[.03,.19],[.07,.13],[-.05,.13],[-.02,.2],[.08,.05],[.04,.04],
[-.18,.2],[-.1,.2],[-.04,.2],[.02,.2],[.08,.2],[-.22,.15],[-.16,.15],[-.02,.15],[.03,.15],[.08,.15],[.12,.15],[.02,.1],[.06,.1],[.1,.1],[.14,.1],[-.25,.05],[.05,.05],[.02,.07],
[-.14,.18],[-.06,.18],[0,.18],[.05,.18],[.1,.18],[0,.12],[.04,.12],[.09,.12],[.03,.07],[.07,.07]];

const pairs = {
  "12": [black12, gray12],
  "13": [black13, gray13],
  "14": [black14, gray14],
  "23": [black23, gray23],
  "24": [black24, gray24],
  "34": [black34, gray34],
};
const polys = [polyV1, polyV2, polyV3, polyV4];
const allTicks = [ticksV1, ticksV2, ticksV3, ticksV4];

const colLeft = [45, 232, 420, 608];
const rowTop = [44, 185, 325, 466];
const plotW = 177;
const plotH = 131;
const margin = 40;
const axisSize = 30;
const wrap = document.getElementById("wrap");

Chart.defaults.font.family = '"Liberation Sans", Arial, sans-serif';
Chart.defaults.font.size = 8;
Chart.defaults.color = "#222";

function fmtTick(v, varIdx) {
  const s = varIdx === 0 ? String(v) : v.toFixed(1);
  return s.replace("-", "\u2212");
}

function tickPadding(varIdx, position) {
  if (position === "top") return 4;
  if (position === "bottom") return 7;
  return varIdx === 0 ? 6 : 2;
}

// outer ticks of the pairs plot, same pattern R uses
function axisFor(varIdx, position, isY) {
  const shown = position !== "none";
  return {
    type: "linear",
    position: shown ? position : isY ? "left" : "bottom",
    display: shown,
    min: limits[varIdx][0],
    max: limits[varIdx][1],
    afterBuildTicks: (scale) => {
      scale.ticks = allTicks[varIdx].map((v) => ({ value: v }));
    },
    afterFit: (scale) => {
      // fixed axis size so every plot box comes out the same
      const size = shown ? axisSize : 0;
      if (isY) scale.width = size;
      else scale.height = size;
    },
    border: { display: false },
    grid: {
      display: true,
      drawOnChartArea: false,
      drawTicks: true,
      tickLength: 5,
      tickColor: "#111",
      tickWidth: 1,
    },
    ticks: {
      autoSkip: false,
      includeBounds: false,
      minRotation: isY ? -90 : 0,
      maxRotation: isY ? -90 : 0,
      crossAlign: isY ? "center" : "near",
      padding: tickPadding(varIdx, position),
      callback: (v) => {
        if (position === "left" && varIdx === 1 && !leftLabelsV2.includes(v)) return "";
        return fmtTick(v, varIdx);
      },
    },
  };
}

const boxPlugin = {
  id: "box",
  afterDraw(chart) {
    const a = chart.chartArea;
    const ctx = chart.ctx;
    ctx.save();
    ctx.strokeStyle = "#111";
    ctx.lineWidth = 1;
    ctx.strokeRect(a.left + 0.5, a.top + 0.5, a.right - a.left, a.bottom - a.top);
    ctx.restore();
  },
};

// diagonal label: beta hat and beta tilde with sup and sub script
const diagPlugin = {
  id: "diag",
  afterDraw(chart, args, opts) {
    if (!opts.label) return;
    const a = chart.chartArea;
    const cx = (a.left + a.right) / 2;
    const cy = (a.top + a.bottom) / 2;
    const ctx = chart.ctx;
    const put = (txt, dx, dy, size) => {
      ctx.font = size + 'px "Liberation Sans", Arial, sans-serif';
      ctx.fillText(txt, cx + dx, cy + dy);
    };
    ctx.save();
    ctx.fillStyle = "#222";
    ctx.textAlign = "center";
    ctx.textBaseline = "middle";
    put("\u03b2", -12, 2, 12);
    put("^", -12, -4, 10);
    put(opts.label, -6, -9, 9);
    put("n", -6, 8, 8);
    put(",", 0, 7, 10);
    put("\u03b2", 5, 2, 12);
    put("~", 5, -5, 9);
    put(opts.label, 13, -9, 9);
    put("m", 13, 8, 8);
    ctx.restore();
  },
};

for (let i = 0; i < 4; i++) {
  for (let j = 0; j < 4; j++) {
    const c = document.createElement("canvas");
    c.width = plotW + margin * 2;
    c.height = plotH + margin * 2;
    c.style.left = colLeft[j] - margin + "px";
    c.style.top = rowTop[i] - margin + "px";
    wrap.appendChild(c);

    const datasets = [];
    if (i !== j) {
      const lo = Math.min(i, j);
      const hi = Math.max(i, j);
      const [blk, gry] = pairs[`${lo + 1}${hi + 1}`];
      // lists are stored as [higher var, lower var]
      const conv = (p) => (i < j ? { x: p[0], y: p[1] } : { x: p[1], y: p[0] });
      datasets.push({
        data: polys[j].map((v, k) => ({ x: v, y: polys[i][k] })),
        showLine: true,
        borderColor: "#000",
        borderWidth: 1,
        pointRadius: 0,
      });
      datasets.push({
        data: blk.map(conv),
        backgroundColor: "#000",
        borderColor: "#000",
        pointRadius: 2.3,
        pointBorderWidth: 0,
      });
      datasets.push({
        data: gry.map(conv),
        pointStyle: "cross",
        borderColor: "#a0a0a0",
        pointRadius: 3.6,
        pointBorderWidth: 1.1,
      });
    }

    const xPos = i === 0 && (j === 1 || j === 3) ? "top" : i === 3 && (j === 0 || j === 2) ? "bottom" : "none";
    const yPos = j === 0 && (i === 1 || i === 3) ? "left" : j === 3 && (i === 0 || i === 2) ? "right" : "none";

    new Chart(c.getContext("2d"), {
      type: "scatter",
      data: { datasets },
      plugins: [boxPlugin, diagPlugin],
      options: {
        responsive: false,
        animation: false,
        events: [],
        layout: {
          padding: {
            left: yPos === "left" ? margin - axisSize : margin,
            right: yPos === "right" ? margin - axisSize : margin,
            top: xPos === "top" ? margin - axisSize : margin,
            bottom: xPos === "bottom" ? margin - axisSize : margin,
          },
        },
        plugins: {
          legend: { display: false },
          tooltip: { enabled: false },
          diag: { label: i === j ? diagLabels[i] : null },
        },
        scales: {
          x: axisFor(j, xPos, false),
          y: axisFor(i, yPos, true),
        },
      },
    });
  }
}
</script>
</body>
</html>
